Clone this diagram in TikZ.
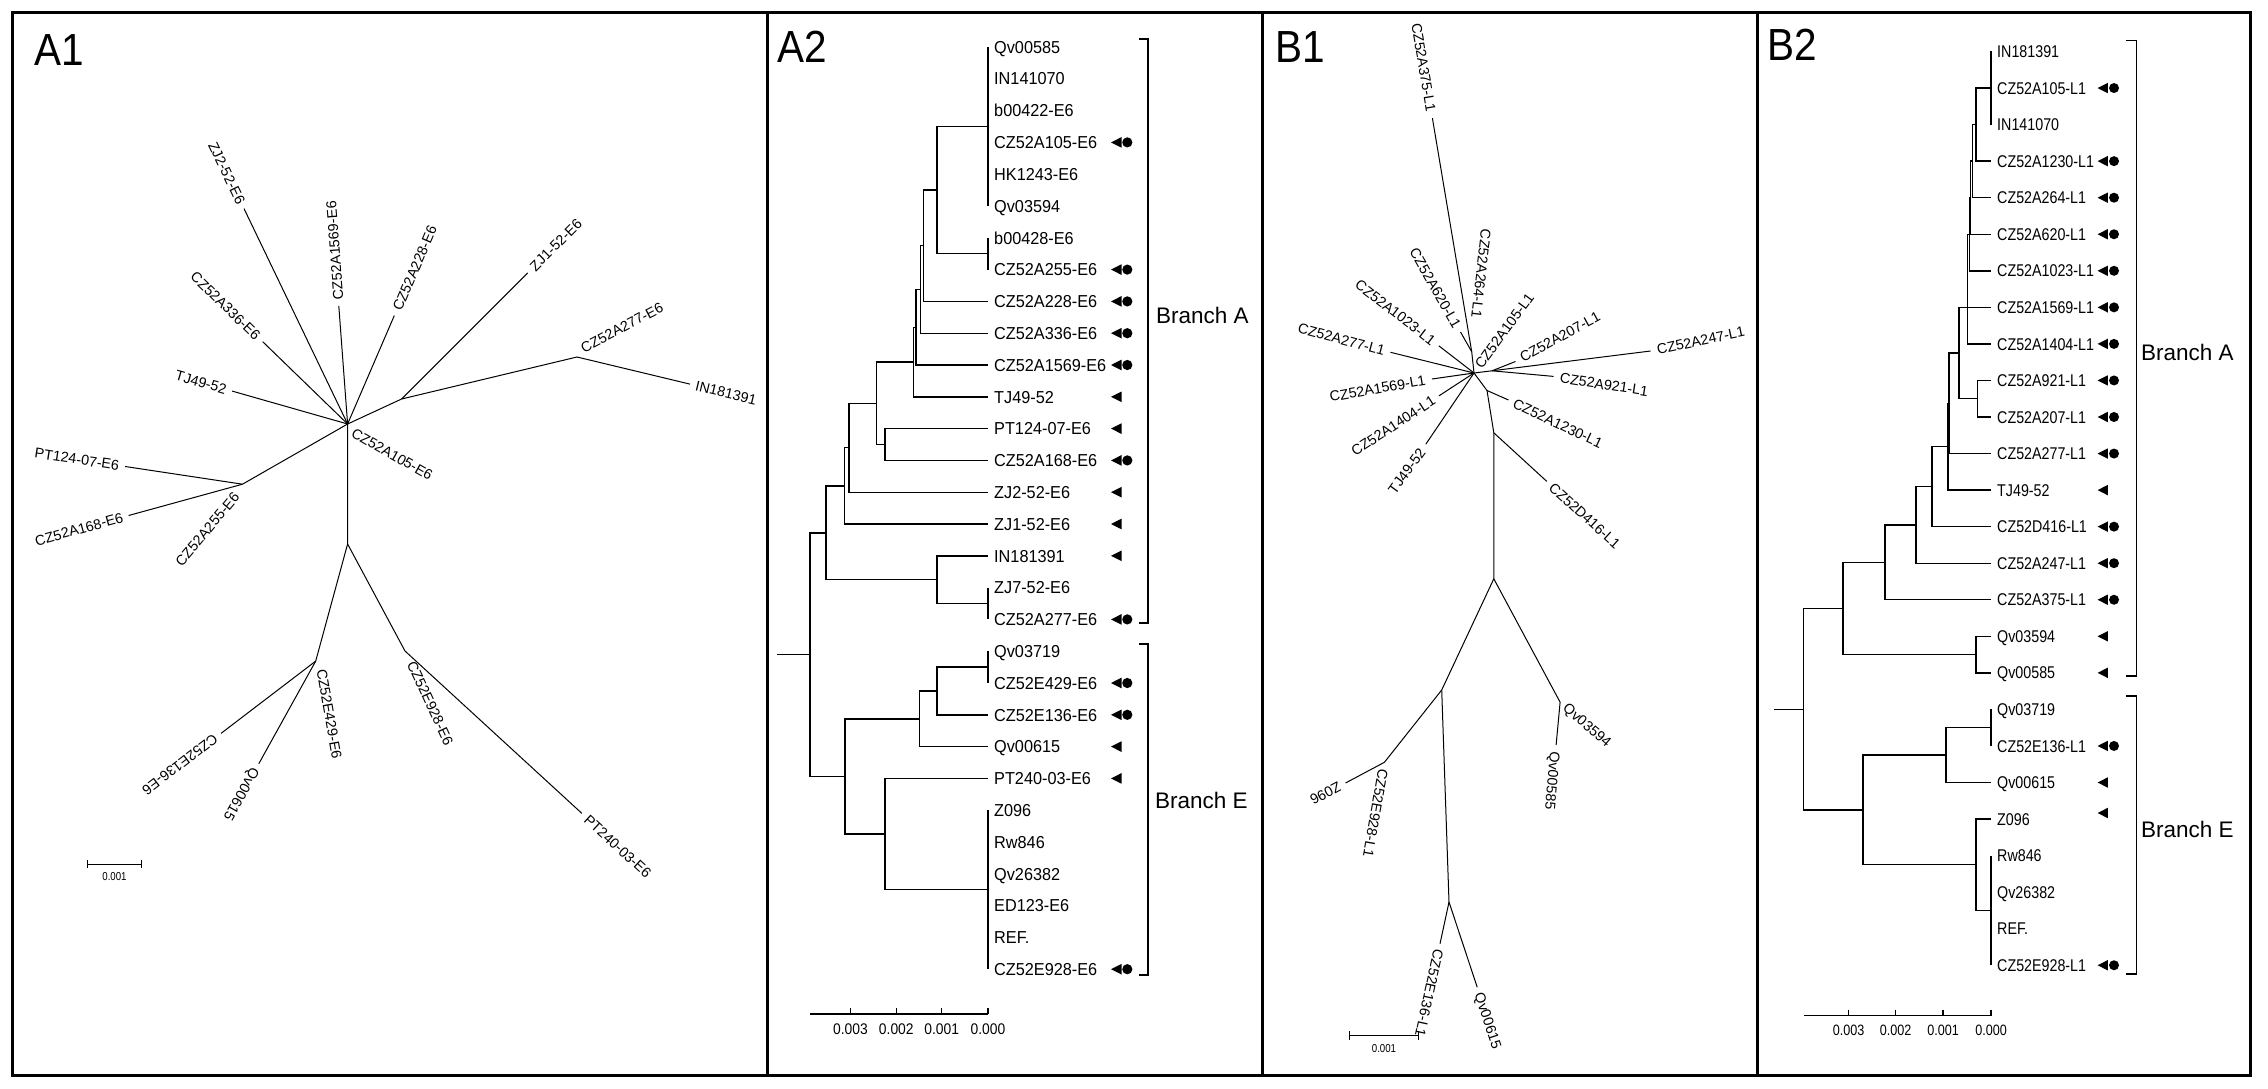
\documentclass[tikz,border=0pt]{standalone}
\usepackage{fontspec}
\setmainfont{Liberation Sans}
\newfontfamily\fmid[FakeStretch=0.94]{Liberation Sans}
\newfontfamily\fnar[FakeStretch=0.84]{Liberation Sans}
\newfontfamily\fpan[FakeStretch=0.9]{Liberation Sans}
\tikzset{
  frm/.style={line width=3pt},
  dl/.style={line width=1.4pt},
  ul/.style={line width=1pt},
  leafA/.style={anchor=west, inner xsep=6pt, inner ysep=0pt, text height=12.4pt, text depth=0pt, font={\fmid\fontsize{17.3}{17.3}\selectfont}},
  leafB/.style={anchor=west, inner xsep=6pt, inner ysep=0pt, text height=12.2pt, text depth=0pt, font={\fnar\fontsize{17}{17}\selectfont}},
  ulab/.style={inner xsep=3pt, inner ysep=0pt, text height=10.2pt, text depth=0pt, font={\fontsize{14.3}{14.3}\selectfont}},
  brl/.style={anchor=west, inner sep=0pt, text height=16.1pt, text depth=0pt, font={\fontsize{22.5}{22.5}\selectfont}},
  tickA/.style={inner sep=0pt, text height=11pt, text depth=0pt, font={\fpan\fontsize{15.4}{15.4}\selectfont}},
  tickB/.style={inner sep=0pt, text height=11pt, text depth=0pt, font={\fnar\fontsize{15}{15}\selectfont}},
  pan/.style={anchor=base west, inner sep=0pt, font={\fpan\fontsize{45}{45}\selectfont}},
  sbl/.style={inner sep=0pt, text height=8.3pt, text depth=0pt, font={\fnar\fontsize{11.5}{11.5}\selectfont}},
}
\begin{document}
\begin{tikzpicture}[x=1pt,y=-1pt]
\useasboundingbox (0,0) rectangle (2268,1089);
\fill[white] (0,0) rectangle (2268,1089);
% frame
\draw[frm] (12,13) rectangle (2250,1075);
\draw[frm] (767,13) -- (767,1075);
\draw[frm] (1262,13) -- (1262,1075);
\draw[frm] (1757,13) -- (1757,1075);
% panel labels
\node[pan] (pA1) at (34,66) {A1};
\node[pan] (pA2) at (777,63) {A2};
\node[pan] (pB1) at (1275,63) {B1};
\node[pan] (pB2) at (1767,61) {B2};

% ================= A1 =================
\coordinate (C1) at (347.6,424);
\coordinate (tTJ) at (232.2,391.1);
\coordinate (t336) at (262.7,341.7);
\coordinate (tZJ2) at (244,208.6);
\coordinate (t1569) at (338.8,305.9);
\coordinate (t228) at (394.3,315.6);
\coordinate (N1) at (401.6,399);
\coordinate (tZJ1) at (527.8,272.9);
\coordinate (N2) at (577,357);
\coordinate (tIN) at (689.9,384.1);
\coordinate (N3) at (242.5,484.2);
\coordinate (tPT124) at (125.2,466.5);
\coordinate (t168) at (128.6,515.5);
\coordinate (N4) at (347.6,544);
\coordinate (N5) at (315.7,661.1);
\coordinate (tE136) at (221,733.4);
\coordinate (t615) at (258.8,763.7);
\coordinate (N6) at (405,651);
\coordinate (tPT240) at (581.9,813.4);
\draw[ul] (C1) -- (tTJ);
\draw[ul] (C1) -- (t336);
\draw[ul] (C1) -- (tZJ2);
\draw[ul] (C1) -- (t1569);
\draw[ul] (C1) -- (t228);
\draw[ul] (C1) -- (N1) -- (tZJ1);
\draw[ul] (N1) -- (N2) -- (tIN);
\draw[ul] (C1) -- (N3) -- (tPT124);
\draw[ul] (N3) -- (t168);
\draw[ul] (C1) -- (N4) -- (N5) -- (tE136);
\draw[ul] (N5) -- (t615);
\draw[ul] (N4) -- (N6) -- (tPT240);
\node[ulab, anchor=east, rotate=-15.9] (l1a) at (229.3,390.3) {TJ49-52};
\node[ulab, anchor=east, rotate=-44.1] (l1b) at (260.5,339.6) {CZ52A336-E6};
\node[ulab, anchor=east, rotate=-64.3] (l1c) at (242.7,205.9) {ZJ2-52-E6};
\node[ulab, anchor=west, rotate=94.3] (l1d) at (338.6,302.9) {CZ52A1569-E6};
\node[ulab, anchor=west, rotate=66.7] (l1e) at (395.5,312.8) {CZ52A228-E6};
\node[ulab, anchor=west, rotate=45] (l1f) at (529.9,270.8) {ZJ1-52-E6};
\node[ulab, anchor=west, rotate=-13.5] (l1g) at (692.8,384.8) {IN181391};
\node[ulab, anchor=west, rotate=27.7] (l1h) at (579,350) {CZ52A277-E6};
\node[ulab, anchor=west, rotate=-29.7] (l1i) at (350,430) {CZ52A105-E6};
\node[ulab, anchor=east, rotate=-8.6] (l1j) at (122.2,466) {PT124-07-E6};
\node[ulab, anchor=east, rotate=15.4] (l1k) at (125.7,516.3) {CZ52A168-E6};
\node[ulab, anchor=east, rotate=50] (l1l) at (238.5,492) {CZ52A255-E6};
\node[ulab, anchor=west, rotate=-142.6] (l1m) at (218.6,735.2) {CZ52E136-E6};
\node[ulab, anchor=west, rotate=-119] (l1n) at (257.3,766.3) {Qv00615};
\node[ulab, anchor=west, rotate=-80] (l1o) at (321,666) {CZ52E429-E6};
\node[ulab, anchor=west, rotate=-65.2] (l1p) at (410,659) {CZ52E928-E6};
\node[ulab, anchor=west, rotate=-42.5] (l1q) at (584.1,815.4) {PT240-03-E6};
% scale A1
\coordinate (sA1l) at (87.7,864);
\coordinate (sA1r) at (141.7,864);
\draw[ul] (sA1l) -- (sA1r);
\draw[ul] (87.7,860) -- (87.7,868);
\draw[ul] (141.7,860) -- (141.7,868);
\node[sbl] (sA1t) at (114.5,876) {0.001};

% ================= A2 =================
\foreach \i/\t in {0/Qv00585,1/IN141070,2/b00422-E6,3/CZ52A105-E6,4/HK1243-E6,5/Qv03594,6/b00428-E6,7/CZ52A255-E6,8/CZ52A228-E6,9/CZ52A336-E6,10/CZ52A1569-E6,11/TJ49-52,12/PT124-07-E6,13/CZ52A168-E6,14/ZJ2-52-E6,15/ZJ1-52-E6,16/IN181391,17/ZJ7-52-E6,18/CZ52A277-E6,19/Qv03719,20/CZ52E429-E6,21/CZ52E136-E6,22/Qv00615,23/PT240-03-E6,24/Z096,25/Rw846,26/Qv26382,27/ED123-E6,28/REF.,29/CZ52E928-E6}
  \node[leafA] (a\i) at (988,{47+31.8*\i}) {\t};
\coordinate (na1) at (988,126.5);
\coordinate (na2) at (988,253.7);
\coordinate (na3) at (937,190.1);
\coordinate (na4) at (923.5,245.75);
\coordinate (na5) at (920.5,289.5);
\coordinate (na6) at (916,327.2);
\coordinate (na7) at (913.5,362);
\coordinate (na8) at (885,444.5);
\coordinate (na9) at (876.7,403.25);
\coordinate (na10) at (849,447.7);
\coordinate (na11) at (844.6,485.9);
\coordinate (na13) at (988,603.5);
\coordinate (na12) at (937,579.65);
\coordinate (na14) at (826,532.8);
\coordinate (ne1) at (988,667.1);
\coordinate (ne2) at (937,690.95);
\coordinate (ne3) at (919.5,718.8);
\coordinate (ne4) at (988,889.7);
\coordinate (ne5) at (885,834.05);
\coordinate (ne6) at (845,776.4);
\coordinate (nroot) at (810,654.6);
\coordinate (nstem) at (777,654.6);
\draw[dl] (a0.west) -- (a5.west);
\draw[dl] (a6.west) -- (a7.west);
\draw[dl] (na3) |- (na1);  \draw[dl] (na3) |- (na2);
\draw[dl] (na4) |- (na3);  \draw[dl] (na4) |- (a8.west);
\draw[dl] (na5) |- (na4);  \draw[dl] (na5) |- (a9.west);
\draw[dl] (na6) |- (na5);  \draw[dl] (na6) |- (a10.west);
\draw[dl] (na7) |- (na6);  \draw[dl] (na7) |- (a11.west);
\draw[dl] (na8) |- (a12.west); \draw[dl] (na8) |- (a13.west);
\draw[dl] (na9) |- (na7);  \draw[dl] (na9) |- (na8);
\draw[dl] (na10) |- (na9); \draw[dl] (na10) |- (a14.west);
\draw[dl] (na11) |- (na10); \draw[dl] (na11) |- (a15.west);
\draw[dl] (a17.west) -- (a18.west);
\draw[dl] (na12) |- (a16.west); \draw[dl] (na12) |- (na13);
\draw[dl] (na14) |- (na11); \draw[dl] (na14) |- (na12);
\draw[dl] (a19.west) -- (a20.west);
\draw[dl] (ne2) |- (ne1); \draw[dl] (ne2) |- (a21.west);
\draw[dl] (ne3) |- (ne2); \draw[dl] (ne3) |- (a22.west);
\draw[dl] (a24.west) -- (a29.west);
\draw[dl] (ne5) |- (a23.west); \draw[dl] (ne5) |- (ne4);
\draw[dl] (ne6) |- (ne3); \draw[dl] (ne6) |- (ne5);
\draw[dl] (nroot) |- (na14); \draw[dl] (nroot) |- (ne6);
\draw[dl] (nstem) -- (nroot);
% markers A2
\foreach \i in {3,7,8,9,10,11,12,13,14,15,16,18,20,21,22,23,29}{
  \pgfmathsetmacro\yy{47+31.8*\i}
  \fill (1111,\yy) -- (1121.5,\yy-5.3) -- (1121.5,\yy+5.3) -- cycle;}
\foreach \i in {3,7,8,9,10,13,18,20,21,29}{
  \pgfmathsetmacro\yy{47+31.8*\i}
  \fill (1127.3,\yy) circle (5.1pt);}
% brackets A2
\draw[dl] (1139,39) -- (1148,39) -- (1148,623) -- (1139,623);
\draw[dl] (1139,644) -- (1148,644) -- (1148,975) -- (1139,975);
\node[brl] (bA2a) at (1156,315) {Branch A};
\node[brl] (bA2e) at (1155,800) {Branch E};
% scale A2
\coordinate (sA2l) at (810,1014);
\coordinate (sA2r) at (988,1014);
\draw[dl] (sA2l) -- (sA2r);
\foreach \x/\t [count=\k] in {850.5/0.003,896.3/0.002,941.7/0.001,988/0.000}{
  \draw[dl] (\x,1008) -- (\x,1014);
  \node[tickA] (sa\k) at (\x,1029) {\t};}

% ================= B1 =================
\coordinate (CB) at (1474,373);
\coordinate (NB1) at (1471.7,351.7);
\coordinate (u375) at (1432.4,118.2);
\coordinate (u620) at (1460.5,332);
\coordinate (u1023) at (1438.8,345.8);
\coordinate (u277) at (1390.5,352.3);
\coordinate (u1569) at (1432,379);
\coordinate (u1404) at (1439,395.8);
\coordinate (uTJ) at (1425.8,444.2);
\coordinate (u247) at (1650.6,351);
\coordinate (NB2) at (1492,370.8);
\coordinate (u207) at (1515.5,361.5);
\coordinate (u921) at (1553.5,376.4);
\coordinate (NB3) at (1487,390.5);
\coordinate (u1230) at (1508.5,400);
\coordinate (NB4) at (1493.8,432.8);
\coordinate (uD416) at (1546.8,481.4);
\coordinate (NB5) at (1493.8,578.8);
\coordinate (NB7) at (1560.1,702.2);
\coordinate (u585) at (1556.1,745);
\coordinate (NB6) at (1441.7,690);
\coordinate (NB8) at (1384.4,762.3);
\coordinate (uZ096) at (1345.5,783);
\coordinate (NB9) at (1449,902);
\coordinate (uE136) at (1440,943.7);
\coordinate (u615) at (1477.2,987.2);
\draw[ul] (CB) -- (NB1) -- (u375);
\draw[ul] (NB1) -- (u620);
\draw[ul] (CB) -- (u1023);
\draw[ul] (CB) -- (u277);
\draw[ul] (CB) -- (u1569);
\draw[ul] (CB) -- (u1404);
\draw[ul] (CB) -- (uTJ);
\draw[ul] (CB) -- (NB2) -- (u247);
\draw[ul] (NB2) -- (u207);
\draw[ul] (NB2) -- (u921);
\draw[ul] (CB) -- (NB3) -- (NB4) -- (NB5);
\draw[ul] (NB3) -- (u1230);
\draw[ul] (NB4) -- (uD416);
\draw[ul] (NB5) -- (NB7) -- (u585);
\draw[ul] (NB5) -- (NB6) -- (NB8) -- (uZ096);
\draw[ul] (NB6) -- (NB9) -- (uE136);
\draw[ul] (NB9) -- (u615);
\node[ulab, anchor=east, rotate=-80.4] (l2a) at (1431.7,114.3) {CZ52A375-L1};
\node[ulab, anchor=east, rotate=-96.4] (l2b) at (1476,321) {CZ52A264-L1};
\node[ulab, anchor=east, rotate=-60.4] (l2c) at (1459,329.4) {CZ52A620-L1};
\node[ulab, anchor=east, rotate=-37.7] (l2d) at (1436.4,344) {CZ52A1023-L1};
\node[ulab, anchor=east, rotate=-15] (l2e) at (1387.6,351.6) {CZ52A277-L1};
\node[ulab, anchor=east, rotate=10] (l2f) at (1428.5,379.5) {CZ52A1569-L1};
\node[ulab, anchor=east, rotate=33.1] (l2g) at (1436.5,397.5) {CZ52A1404-L1};
\node[ulab, anchor=east, rotate=54] (l2h) at (1424,447) {TJ49-52};
\node[ulab, anchor=west, rotate=53.7] (l2i) at (1476,369) {CZ52A105-L1};
\node[ulab, anchor=west, rotate=28.6] (l2j) at (1518,359.5) {CZ52A207-L1};
\node[ulab, anchor=west, rotate=12] (l2k) at (1654,350.5) {CZ52A247-L1};
\node[ulab, anchor=west, rotate=-9] (l2l) at (1557,377) {CZ52A921-L1};
\node[ulab, anchor=west, rotate=-25] (l2m) at (1511,401.5) {CZ52A1230-L1};
\node[ulab, anchor=west, rotate=-42] (l2n) at (1549,483.4) {CZ52D416-L1};
\node[ulab, anchor=west, rotate=-40.7] (l2o) at (1563,704) {Qv03594};
\node[ulab, anchor=west, rotate=-95] (l2p) at (1555.5,749) {Qv00585};
\node[ulab, anchor=west, rotate=-152] (l2q) at (1342.8,784.4) {Z096};
\node[ulab, anchor=west, rotate=-100] (l2r) at (1384,766) {CZ52E928-L1};
\node[ulab, anchor=west, rotate=-102.2] (l2s) at (1439.4,946.6) {CZ52E136-L1};
\node[ulab, anchor=west, rotate=-71.7] (l2t) at (1478.1,990) {Qv00615};
% scale B1
\coordinate (sB1l) at (1349.5,1035.8);
\coordinate (sB1r) at (1418.5,1035.8);
\draw[ul] (sB1l) -- (sB1r);
\draw[ul] (1349.5,1031.3) -- (1349.5,1040.3);
\draw[ul] (1418.5,1031.3) -- (1418.5,1040.3);
\node[sbl] (sB1t) at (1384,1048) {0.001};

% ================= B2 =================
\foreach \i/\t in {0/IN181391,1/CZ52A105-L1,2/IN141070,3/CZ52A1230-L1,4/CZ52A264-L1,5/CZ52A620-L1,6/CZ52A1023-L1,7/CZ52A1569-L1,8/CZ52A1404-L1,9/CZ52A921-L1,10/CZ52A207-L1,11/CZ52A277-L1,12/TJ49-52,13/CZ52D416-L1,14/CZ52A247-L1,15/CZ52A375-L1,16/Qv03594,17/Qv00585,18/Qv03719,19/CZ52E136-L1,20/Qv00615,21/Z096,22/Rw846,23/Qv26382,24/REF.,25/CZ52E928-L1}
  \node[leafB] (b\i) at (1991,{51.5+36.55*\i}) {\t};
\coordinate (nb1) at (1991,88.05);
\coordinate (nb2) at (1976,124.6);
\coordinate (nb3) at (1972.5,161.15);
\coordinate (nb4) at (1970.5,197.7);
\coordinate (nb5) at (1969.5,234.25);
\coordinate (nb6) at (1967.5,307.35);
\coordinate (nb9) at (1977.5,398.7);
\coordinate (nb7) at (1959,353);
\coordinate (nb10) at (1949,403.3);
\coordinate (nb11) at (1948,446.7);
\coordinate (nb12) at (1932,486.7);
\coordinate (nb13) at (1916,524.9);
\coordinate (nb14) at (1885,562.3);
\coordinate (nb15) at (1976,654.6);
\coordinate (nb16) at (1843,608.5);
\coordinate (nb17) at (1991,727.7);
\coordinate (nb18) at (1946,755.1);
\coordinate (nb19) at (1991,910.4);
\coordinate (nb20) at (1976,864.7);
\coordinate (nb21) at (1863,809.9);
\coordinate (nbroot) at (1803.5,709.2);
\coordinate (nbstem) at (1774,709.2);
\draw[dl] (b0.west) -- (b2.west);
\draw[dl] (nb2) |- (nb1); \draw[dl] (nb2) |- (b3.west);
\draw[dl] (nb3) |- (nb2); \draw[dl] (nb3) |- (b4.west);
\draw[dl] (nb4) |- (nb3); \draw[dl] (nb4) |- (b5.west);
\draw[dl] (nb5) |- (nb4); \draw[dl] (nb5) |- (b6.west);
\draw[dl] (nb6) |- (nb5); \draw[dl] (nb6) |- (b8.west);
\draw[dl] (nb9) |- (b9.west); \draw[dl] (nb9) |- (b10.west);
\draw[dl] (nb7) |- (nb6); \draw[dl] (nb7) |- (b7.west); \draw[dl] (nb7) |- (nb9);
\draw[dl] (nb10) |- (nb7); \draw[dl] (nb10) |- (b11.west);
\draw[dl] (nb11) |- (nb10); \draw[dl] (nb11) |- (b12.west);
\draw[dl] (nb12) |- (nb11); \draw[dl] (nb12) |- (b13.west);
\draw[dl] (nb13) |- (nb12); \draw[dl] (nb13) |- (b14.west);
\draw[dl] (nb14) |- (nb13); \draw[dl] (nb14) |- (b15.west);
\draw[dl] (nb15) |- (b16.west); \draw[dl] (nb15) |- (b17.west);
\draw[dl] (nb16) |- (nb14); \draw[dl] (nb16) |- (nb15);
\draw[dl] (b18.west) -- (b19.west);
\draw[dl] (nb18) |- (nb17); \draw[dl] (nb18) |- (b20.west);
\draw[dl] (b22.west) -- (b25.west);
\draw[dl] (nb20) |- (b21.west); \draw[dl] (nb20) |- (nb19);
\draw[dl] (nb21) |- (nb18); \draw[dl] (nb21) |- (nb20);
\draw[dl] (nbroot) |- (nb16); \draw[dl] (nbroot) |- (nb21);
\draw[dl] (nbstem) -- (nbroot);
% markers B2
\foreach \i in {1,3,4,5,6,7,8,9,10,11,12,13,14,15,16,17,19,20,25}{
  \pgfmathsetmacro\yy{51.5+36.55*\i}
  \fill (2097.6,\yy) -- (2107.8,\yy-5.2) -- (2107.8,\yy+5.2) -- cycle;}
\fill (2097.6,813) -- (2107.8,807.8) -- (2107.8,818.2) -- cycle;
\foreach \i in {1,3,4,5,6,7,8,9,10,11,13,14,15,19,25}{
  \pgfmathsetmacro\yy{51.5+36.55*\i}
  \fill (2114,\yy) circle (5pt);}
% brackets B2
\draw[dl] (2126,40.7) -- (2136.5,40.7) -- (2136.5,676) -- (2126,676);
\draw[dl] (2126,696) -- (2136.5,696) -- (2136.5,974) -- (2126,974);
\node[brl] (bB2a) at (2141,352) {Branch A};
\node[brl] (bB2e) at (2141,829) {Branch E};
% scale B2
\coordinate (sB2l) at (1803.5,1015.7);
\coordinate (sB2r) at (1991,1015.7);
\draw[dl] (sB2l) -- (sB2r);
\foreach \x/\t [count=\k] in {1848.5/0.003,1895.7/0.002,1943/0.001,1991/0.000}{
  \draw[dl] (\x,1009.7) -- (\x,1015.7);
  \node[tickB] (sb\k) at (\x,1029.6) {\t};}
\end{tikzpicture}
\end{document}
